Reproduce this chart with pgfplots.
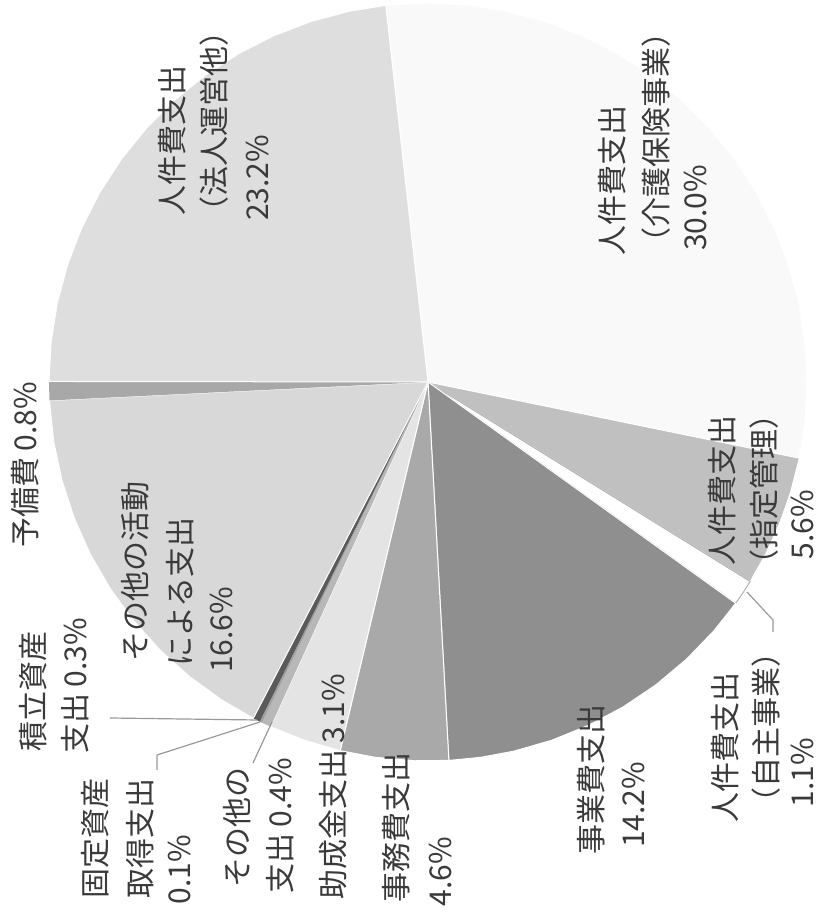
\documentclass[border=0pt]{standalone}
\usepackage{pgfplots}
\pgfplotsset{compat=1.18}
\usepackage{fontspec}
\setmainfont{Noto Sans CJK JP}
\definecolor{cA}{HTML}{F9F9F9}% 30.0
\definecolor{cC}{HTML}{C0C0C0}% 5.6
\definecolor{cD}{HTML}{FFFFFF}% 1.1
\definecolor{cE}{HTML}{8F8F8F}% 14.2
\definecolor{cF}{HTML}{A9A9A9}% 4.6
\definecolor{cG}{HTML}{E4E4E4}% 3.1
\definecolor{cH}{HTML}{B8B8B8}% 0.4
\definecolor{cI}{HTML}{A0A0A0}% 0.1
\definecolor{cJ}{HTML}{5A5A5A}% 0.3
\definecolor{cK}{HTML}{D8D8D8}% 16.6
\definecolor{cL}{HTML}{A8A8A8}% 0.8
\definecolor{cB}{HTML}{DEDEDE}% 23.2
\definecolor{txt}{HTML}{3A3A3A}
\tikzset{lbl/.style={rotate=90, anchor=center, inner sep=0pt, text=txt, font=\fontsize{15}{18}\selectfont}}
\pgfplotsset{slice/.style={draw=white, line width=0.5pt, data cs=polar}}
\begin{document}
\begin{tikzpicture}
\begin{axis}[scale only axis, width=409.5pt, height=457.5pt,
  xmin=-428, xmax=391, ymin=-533, ymax=382, hide axis, clip=false]
% shares (%): 30.0, 5.6, 1.1, 14.2, 4.6, 3.1, 0.4, 0.1, 0.3, 16.6, 0.8, 23.2 ; start 96.4 deg, clockwise, 3.6 deg per 1%
\addplot[slice, fill=cA] coordinates {(0,0) (96.4,379) (90,379) (84,379) (78,379) (72,379) (66,379) (60,379) (54,379) (48,379) (42,379) (36,379) (30,379) (24,379) (18,379) (12,379) (6,379) (0,379) (-6,379) (-11.6,379)} -- cycle;
\addplot[slice, fill=cC] coordinates {(0,0) (-11.6,379) (-17,379) (-22,379) (-27,379) (-31.76,379)} -- cycle;
\addplot[slice, fill=cD, draw=gray!60] coordinates {(0,0) (-31.76,379) (-33.7,379) (-35.72,379)} -- cycle;
\addplot[slice, fill=cE] coordinates {(0,0) (-35.72,379) (-41,379) (-47,379) (-53,379) (-59,379) (-65,379) (-71,379) (-77,379) (-82,379) (-86.84,379)} -- cycle;
\addplot[slice, fill=cF] coordinates {(0,0) (-86.84,379) (-92,379) (-98,379) (-103.4,379)} -- cycle;
\addplot[slice, fill=cG] coordinates {(0,0) (-103.4,379) (-109,379) (-114.56,379)} -- cycle;
\addplot[data cs=polar, fill=cH, draw=none] coordinates {(0,0) (-114.56,379) (-116.0,379)} -- cycle;
\addplot[data cs=polar, fill=cI, draw=none] coordinates {(0,0) (-116.0,379) (-116.36,379)} -- cycle;
\addplot[data cs=polar, fill=cJ, draw=none] coordinates {(0,0) (-116.36,379) (-117.44,379)} -- cycle;
\addplot[slice, fill=cK] coordinates {(0,0) (-117.44,379) (-123,379) (-129,379) (-135,379) (-141,379) (-147,379) (-153,379) (-159,379) (-165,379) (-171,379) (-177.2,379)} -- cycle;
\addplot[data cs=polar, fill=cL, draw=none] coordinates {(0,0) (-177.2,379) (-180.08,379)} -- cycle;
\addplot[slice, fill=cB] coordinates {(0,0) (-180.08,379) (-186,379) (-192,379) (-198,379) (-204,379) (-210,379) (-216,379) (-222,379) (-228,379) (-234,379) (-240,379) (-246,379) (-252,379) (-258,379) (-263.6,379)} -- cycle;
% leader lines
\draw[gray!80, line width=0.6pt] (axis cs:-318,-336) -- (axis cs:-171,-338);
\draw[gray!80, line width=0.6pt] (axis cs:-271,-388) -- (axis cs:-271,-373) -- (axis cs:-168,-340);
\draw[gray!80, line width=0.6pt] (axis cs:-156,-340) -- (axis cs:-175,-381);
\draw[gray!80, line width=0.6pt] (axis cs:319,-210) -- (axis cs:345,-238) -- (axis cs:345,-250);
% labels
\node[lbl] at (axis cs:184,201) {人件費支出};
\node[lbl] at (axis cs:228,244) {（介護保険事業）};
\node[lbl] at (axis cs:267,174) {30.0\%};
\node[lbl] at (axis cs:-256,241) {人件費支出};
\node[lbl] at (axis cs:-214,260) {（法人運営他）};
\node[lbl] at (axis cs:-170,204) {23.2\%};
\node[lbl] at (axis cs:294,-109) {人件費支出};
\node[lbl] at (axis cs:336,-108) {（指定管理）};
\node[lbl] at (axis cs:374,-143) {5.6\%};
\node[lbl] at (axis cs:297,-366) {人件費支出};
\node[lbl] at (axis cs:338,-346) {（自主事業）};
\node[lbl] at (axis cs:374,-391) {1.1\%};
\node[lbl] at (axis cs:163,-398) {事業費支出};
\node[lbl] at (axis cs:205,-423) {14.2\%};
\node[lbl] at (axis cs:-32,-446) {事務費支出};
\node[lbl] at (axis cs:12,-490) {4.6\%};
\node[lbl] at (axis cs:-95,-405) {助成金支出 3.1\%};
\node[lbl] at (axis cs:-191,-446) {その他の};
\node[lbl] at (axis cs:-148,-444) {支出 0.4\%};
\node[lbl] at (axis cs:-333,-456) {固定資産};
\node[lbl] at (axis cs:-288,-456) {取得支出};
\node[lbl] at (axis cs:-248,-488) {0.1\%};
\node[lbl] at (axis cs:-395,-310) {積立資産};
\node[lbl] at (axis cs:-353,-304) {支出 0.3\%};
\node[lbl] at (axis cs:-293,-190) {その他の活動};
\node[lbl] at (axis cs:-248,-210) {による支出};
\node[lbl] at (axis cs:-206,-248) {16.6\%};
\node[lbl] at (axis cs:-403,-83) {予備費 0.8\%};
\end{axis}
\pgfresetboundingbox
\path (current axis.south west) rectangle (current axis.north east);
\end{tikzpicture}
\end{document}
